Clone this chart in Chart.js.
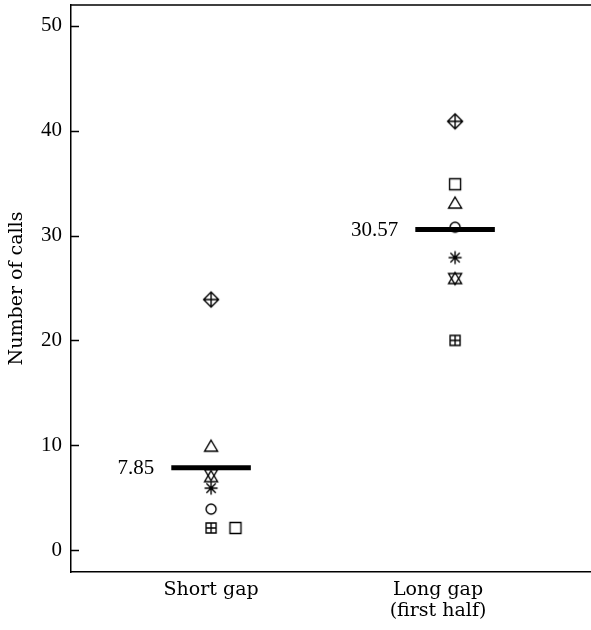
<!DOCTYPE html>
<html>
<head>
<meta charset="utf-8">
<script src="https://cdn.jsdelivr.net/npm/chart.js@4.4.1/dist/chart.umd.min.js"></script>
<style>
  body { margin: 0; background: #fff; }
  #wrap { width: 591px; height: 630px; }
</style>
</head>
<body>
<div id="wrap"><canvas id="Chart" width="591" height="630"></canvas></div>
<script>
// conditions on the x axis
var conditions = ['Short gap', ['Long gap', '(first half)']];
var conditionX = [1, 2];
var labelX = [1, 1.93];

// one marker per subject
var markers = ['diamondPlus', 'square', 'triangle', 'circle', 'star', 'triangleDown', 'triangleUp', 'squarePlus'];
var shortGap = [23.9, 2.1, 9.9, 3.9, 5.9, 7.2, 7.0, 2.1];
var longGap = [40.9, 34.9, 33.1, 30.8, 27.9, 25.9, 25.9, 20.0];
var shortJitter = [0, 0.1, 0, 0, 0, 0, 0, 0];

var means = [7.85, 30.57];
var yTicks = [0, 10, 20, 30, 40, 50];

var WORDS = "'DejaVu Serif', serif";
var NUMS = "'Liberation Serif', 'Times New Roman', serif";

function makeMarker(kind) {
  var s = 22, m = s / 2;
  var c = document.createElement('canvas');
  c.width = s; c.height = s;
  var g = c.getContext('2d');
  g.strokeStyle = '#000';
  g.lineWidth = 1.4;
  g.beginPath();
  if (kind === 'diamondPlus') {
    var r = 7.5;
    g.moveTo(m, m - r); g.lineTo(m + r, m); g.lineTo(m, m + r); g.lineTo(m - r, m); g.closePath();
    g.moveTo(m - r, m); g.lineTo(m + r, m);
    g.moveTo(m, m - r); g.lineTo(m, m + r);
  } else if (kind === 'square') {
    g.rect(m - 5.5, m - 5.5, 11, 11);
  } else if (kind === 'squarePlus') {
    g.rect(m - 5, m - 5, 10, 10);
    g.moveTo(m - 5, m); g.lineTo(m + 5, m);
    g.moveTo(m, m - 5); g.lineTo(m, m + 5);
  } else if (kind === 'triangle' || kind === 'triangleUp') {
    g.moveTo(m, m - 6); g.lineTo(m + 6.5, m + 5); g.lineTo(m - 6.5, m + 5); g.closePath();
  } else if (kind === 'triangleDown') {
    g.moveTo(m, m + 6); g.lineTo(m + 6.5, m - 5); g.lineTo(m - 6.5, m - 5); g.closePath();
  } else if (kind === 'circle') {
    g.arc(m, m, 5, 0, Math.PI * 2);
  } else if (kind === 'star') {
    var r2 = 6.5, d = r2 * 0.72;
    g.moveTo(m - r2, m); g.lineTo(m + r2, m);
    g.moveTo(m, m - r2); g.lineTo(m, m + r2);
    g.moveTo(m - d, m - d); g.lineTo(m + d, m + d);
    g.moveTo(m - d, m + d); g.lineTo(m + d, m - d);
  }
  g.stroke();
  return c;
}

var HALF = 0.163;
var datasets = [];

// mean bars (first so they draw on top)
means.forEach(function (v, i) {
  datasets.push({
    type: 'line',
    label: 'mean ' + i,
    data: [{x: conditionX[i] - HALF, y: v}, {x: conditionX[i] + HALF, y: v}],
    borderColor: '#000',
    borderWidth: 5,
    borderCapStyle: 'butt',
    pointRadius: 0,
    fill: false
  });
});

markers.forEach(function (kind, i) {
  datasets.push({
    type: 'scatter',
    label: kind,
    data: [
      {x: conditionX[0] + shortJitter[i], y: shortGap[i]},
      {x: conditionX[1], y: longGap[i]}
    ],
    pointStyle: makeMarker(kind),
    pointRadius: 8
  });
});

function noPad(scale) {
  scale.paddingTop = 0; scale.paddingBottom = 0;
  scale.paddingLeft = 0; scale.paddingRight = 0;
}

var frame = {
  id: 'frame',
  afterDraw: function (chart) {
    var ctx = chart.ctx, a = chart.chartArea, y = chart.scales.y, x = chart.scales.x;
    ctx.save();
    ctx.strokeStyle = '#000';
    ctx.lineWidth = 1.5;
    ctx.beginPath();
    ctx.moveTo(a.left, a.top); ctx.lineTo(a.right, a.top);
    // inward tick marks
    yTicks.forEach(function (t) {
      var py = Math.round(y.getPixelForValue(t)) + 0.5;
      ctx.moveTo(a.left, py); ctx.lineTo(a.left + 8, py);
    });
    ctx.stroke();
    // mean labels
    ctx.fillStyle = '#000';
    ctx.font = '21px ' + NUMS;
    ctx.textAlign = 'right';
    ctx.textBaseline = 'middle';
    means.forEach(function (v, i) {
      ctx.fillText(v.toFixed(2), x.getPixelForValue(conditionX[i] - HALF) - 17, y.getPixelForValue(v) + 1);
    });
    ctx.restore();
  }
};

var chart = new Chart('Chart', {
  data: { datasets: datasets },
  plugins: [frame],
  options: {
    responsive: false,
    animation: false,
    layout: { autoPadding: false, padding: { top: 5, right: 0, left: 0, bottom: 0 } },
    plugins: { legend: { display: false }, tooltip: { enabled: false } },
    scales: {
      x: {
        type: 'linear',
        min: 0.426,
        max: 2.557,
        afterBuildTicks: function (scale) {
          scale.ticks = labelX.map(function (v) { return {value: v}; });
        },
        afterFit: function (scale) { scale.height = 58; noPad(scale); },
        ticks: {
          color: '#000',
          padding: 7,
          maxRotation: 0,
          autoSkip: false,
          font: { family: WORDS, size: 19, lineHeight: 1.12 },
          callback: function (v, i) { return conditions[i]; }
        },
        grid: { drawOnChartArea: false, drawTicks: false },
        border: { display: true, color: '#000', width: 1.5 }
      },
      y: {
        type: 'linear',
        min: -2.1,
        max: 52,
        afterBuildTicks: function (scale) {
          scale.ticks = yTicks.map(function (v) { return {value: v}; });
        },
        afterFit: function (scale) { scale.width = 71; noPad(scale); },
        ticks: {
          color: '#000',
          padding: 9,
          font: { family: NUMS, size: 21 }
        },
        grid: { drawOnChartArea: false, drawTicks: false },
        border: { display: true, color: '#000', width: 1.5 },
        title: {
          display: true,
          text: 'Number of calls',
          color: '#000',
          padding: { top: 6, bottom: 0 },
          font: { family: WORDS, size: 19 }
        }
      }
    }
  }
});
</script>
</body>
</html>
